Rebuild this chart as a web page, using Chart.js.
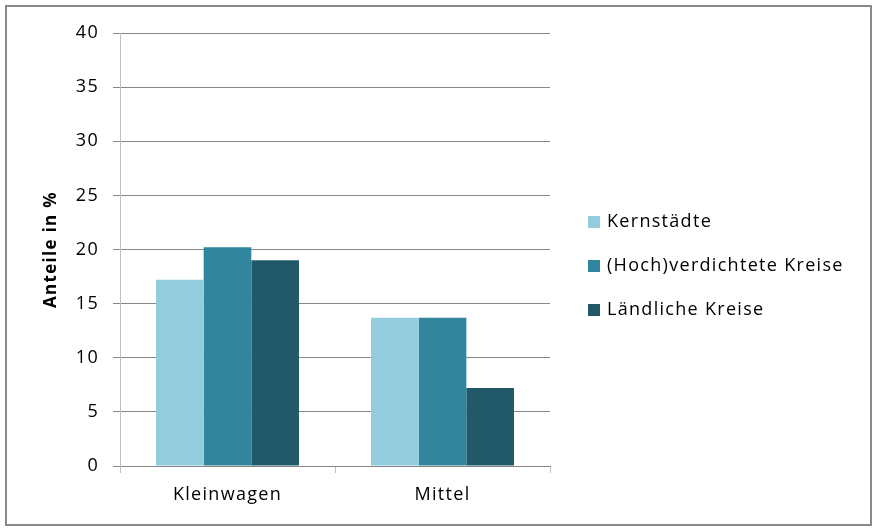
<!DOCTYPE html>
<html>
<head>
<meta charset="utf-8">
<script src="https://cdn.jsdelivr.net/npm/chart.js@4.4.1/dist/chart.umd.min.js"></script>
<style>
  html, body { margin: 0; padding: 0; background: #fff; }
  #wrap { width: 873px; height: 528px; position: relative; }
</style>
</head>
<body>
<div id="wrap"><canvas id="chart" width="873" height="528"></canvas></div>
<script>
// Daten
const categories = ['Kleinwagen', 'Mittel'];
const seriesNames = ['Kernstädte', '(Hoch)verdichtete Kreise', 'Ländliche Kreise'];
const kernstaedte = [17.2, 13.7];
const verdichtet = [20.2, 13.7];
const laendlich = [19.0, 7.2];
const seriesColors = ['#93CDDD', '#31859C', '#215968'];
const yTicks = [0, 5, 10, 15, 20, 25, 30, 35, 40];

const FONT = "'Open Sans', 'DejaVu Sans', sans-serif";
const SPACING = '1.3px';

// Rahmen + Zeichenabstand (Calibri-artig breiter)
const framePlugin = {
  id: 'frame',
  beforeLayout(chart) {
    chart.ctx.letterSpacing = SPACING;
  },
  beforeDraw(chart) {
    const { ctx } = chart;
    ctx.letterSpacing = SPACING;
    ctx.save();
    ctx.fillStyle = '#fff';
    ctx.fillRect(0, 0, chart.width, chart.height);
    ctx.strokeStyle = '#898989';
    ctx.lineWidth = 2;
    ctx.strokeRect(6, 6, 865, 519);
    ctx.restore();
  }
};

// Legende rechts, gezeichnet aus den Datensätzen
const sideLegend = {
  id: 'sideLegend',
  afterDraw(chart) {
    const { ctx } = chart;
    ctx.save();
    ctx.letterSpacing = SPACING;
    ctx.font = '18px ' + FONT;
    ctx.textBaseline = 'middle';
    chart.data.datasets.forEach((ds, i) => {
      const y = 222 + i * 44;
      ctx.fillStyle = ds.backgroundColor;
      ctx.fillRect(588, y - 6, 12, 12);
      ctx.fillStyle = '#000';
      ctx.fillText(ds.label, 607, y);
    });
    ctx.restore();
  }
};

const data = {
  labels: categories,
  datasets: [
    { label: seriesNames[0], data: kernstaedte, backgroundColor: seriesColors[0] },
    { label: seriesNames[1], data: verdichtet, backgroundColor: seriesColors[1] },
    { label: seriesNames[2], data: laendlich, backgroundColor: seriesColors[2] }
  ]
};

new Chart(document.getElementById('chart').getContext('2d'), {
  type: 'bar',
  data: data,
  plugins: [framePlugin, sideLegend],
  options: {
    responsive: false,
    animation: false,
    layout: { padding: { left: 41, right: 323, top: 33, bottom: 0 } },
    datasets: { bar: { categoryPercentage: 0.665, barPercentage: 1.0 } },
    plugins: { legend: { display: false }, tooltip: { enabled: false } },
    scales: {
      x: {
        afterFit: s => { s.height = 62; },
        grid: { offset: true, drawOnChartArea: false, drawTicks: true, tickLength: 7, color: '#BFBFBF' },
        border: { color: '#868686' },
        ticks: { color: '#000', font: { family: FONT, size: 18 }, padding: 11 }
      },
      y: {
        min: 0, max: 40,
        afterFit: s => { s.width = 79; },
        afterBuildTicks: s => { s.ticks = yTicks.map(v => ({ value: v })); },
        grid: { color: '#868686', tickLength: 7 },
        border: { color: '#BFBFBF' },
        ticks: { color: '#000', font: { family: FONT, size: 18 }, padding: 14 },
        title: {
          display: true, text: 'Anteile in %', color: '#000',
          font: { family: FONT, size: 17, weight: 'bold' }, padding: { top: 0, bottom: 0 }
        }
      }
    }
  }
});
</script>
</body>
</html>
